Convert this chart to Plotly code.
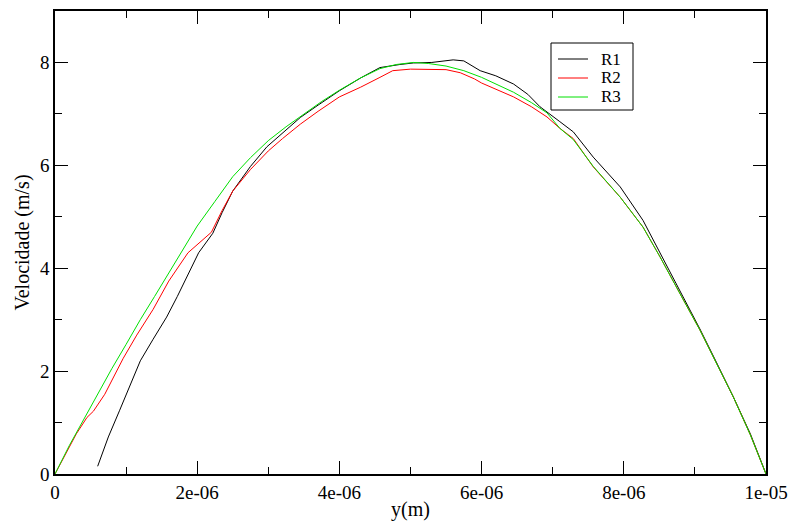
import plotly.graph_objects as go

# x positions in micrometres (converted to metres below), velocities in m/s
r1_x_um = [0.60, 0.75, 0.91, 1.05, 1.20, 1.38, 1.57, 1.72, 1.85, 2.02, 2.22, 2.35, 2.50, 2.75, 2.98, 3.20, 3.45, 3.70, 4.00, 4.30, 4.57, 4.85, 5.04, 5.30, 5.60, 5.75, 5.98, 6.20, 6.45, 6.65, 6.82, 7.10, 7.29, 7.57, 7.95, 8.27, 8.51, 8.84, 9.07, 9.30, 9.54, 9.78, 10.0]
r1_v = [0.15, 0.72, 1.24, 1.70, 2.20, 2.62, 3.05, 3.45, 3.83, 4.30, 4.68, 5.08, 5.50, 5.98, 6.36, 6.62, 6.93, 7.17, 7.45, 7.70, 7.90, 7.96, 7.99, 8.00, 8.05, 8.03, 7.84, 7.74, 7.58, 7.38, 7.14, 6.85, 6.65, 6.16, 5.58, 4.93, 4.29, 3.44, 2.82, 2.18, 1.50, 0.78, 0.0]

r2_x_um = [0.0, 0.15, 0.30, 0.45, 0.54, 0.70, 0.96, 1.15, 1.38, 1.60, 1.87, 2.20, 2.35, 2.50, 2.75, 3.00, 3.20, 3.45, 3.70, 4.00, 4.30, 4.57, 4.75, 5.00, 5.30, 5.50, 5.70, 5.90, 6.00, 6.20, 6.45, 6.70, 6.92, 7.10, 7.29, 7.57, 7.95, 8.27, 8.51, 8.84, 9.07, 9.30, 9.54, 9.78, 10.0]
r2_v = [0.0, 0.40, 0.78, 1.10, 1.22, 1.55, 2.25, 2.70, 3.20, 3.75, 4.30, 4.70, 5.12, 5.50, 5.92, 6.28, 6.52, 6.80, 7.05, 7.33, 7.52, 7.71, 7.84, 7.87, 7.87, 7.86, 7.80, 7.68, 7.60, 7.48, 7.33, 7.14, 6.94, 6.72, 6.52, 5.97, 5.38, 4.80, 4.22, 3.38, 2.80, 2.16, 1.50, 0.76, 0.0]

r3_x_um = [0.0, 0.20, 0.40, 0.60, 0.80, 1.00, 1.20, 1.40, 1.60, 1.80, 2.00, 2.25, 2.50, 2.75, 3.00, 3.25, 3.50, 3.75, 4.00, 4.30, 4.57, 4.80, 5.04, 5.25, 5.50, 5.75, 6.00, 6.20, 6.45, 6.70, 6.92, 7.10, 7.29, 7.57, 7.95, 8.27, 8.51, 8.84, 9.07, 9.30, 9.54, 9.78, 10.0]
r3_v = [0.0, 0.55, 1.05, 1.56, 2.05, 2.52, 3.00, 3.45, 3.90, 4.35, 4.82, 5.30, 5.78, 6.15, 6.48, 6.75, 7.00, 7.24, 7.46, 7.70, 7.88, 7.96, 8.00, 7.98, 7.93, 7.84, 7.71, 7.58, 7.42, 7.22, 7.02, 6.72, 6.50, 5.98, 5.38, 4.80, 4.22, 3.38, 2.80, 2.16, 1.50, 0.76, 0.0]

x_tick_vals = [0, 2e-6, 4e-6, 6e-6, 8e-6, 1e-5]
x_tick_text = ["0", "2e-06", "4e-06", "6e-06", "8e-06", "1e-05"]
y_tick_vals = [0, 2, 4, 6, 8]

series_names = ["R1", "R2", "R3"]
series_colors = ["black", "#ff0000", "#00e000"]
series_x = [r1_x_um, r2_x_um, r3_x_um]
series_v = [r1_v, r2_v, r3_v]

W, H = 791, 522
ML, MR, MT, MB = 55, 25, 11, 48
PW, PH = W - ML - MR, H - MT - MB

def px_to_paper(px, py):
    return (px - ML) / PW, (H - MB - py) / PH

fig = go.Figure()
for name, xs, vs, col in zip(series_names, series_x, series_v, series_colors):
    fig.add_trace(go.Scatter(x=[v * 1e-6 for v in xs], y=vs, mode="lines", name=name,
                             line=dict(color=col, width=1)))

serif = "'Liberation Serif', 'Times New Roman', Times, serif"
axis_common = dict(showline=True, linecolor="black", linewidth=1.5, mirror="allticks",
                   ticks="inside", tickcolor="black", tickwidth=1, ticklen=13,
                   showgrid=False, zeroline=False, automargin=False,
                   tickfont=dict(family=serif, size=19, color="black"))

fig.update_xaxes(range=[0, 1e-5], tickvals=x_tick_vals, ticktext=x_tick_text,
                 minor=dict(dtick=1e-6, ticks="inside", ticklen=7, tickcolor="black", showgrid=False),
                 title_text="y(m)", title_font=dict(family=serif, size=20, color="black"),
                 title_standoff=0,
                 **axis_common)
fig.update_yaxes(range=[0, 9], tickvals=y_tick_vals,
                 minor=dict(dtick=1, ticks="inside", ticklen=7, tickcolor="black", showgrid=False),
                 title_text="Velocidade (m/s)", title_font=dict(family=serif, size=20, color="black"),
                 title_standoff=5,
                 **axis_common)

# hand-built legend box (xmgrace style, tight line spacing)
bx0, by0 = px_to_paper(551, 43)
bx1, by1 = px_to_paper(633, 110)
fig.add_shape(type="rect", xref="paper", yref="paper", x0=bx0, x1=bx1, y0=by1, y1=by0,
              line=dict(color="black", width=1), fillcolor="white", layer="above")
entry_py = [59, 78, 97]
for name, col, py in zip(series_names, series_colors, entry_py):
    lx0, ly = px_to_paper(558, py)
    lx1, _ = px_to_paper(588, py)
    tx, _ = px_to_paper(600, py)
    fig.add_shape(type="line", xref="paper", yref="paper", x0=lx0, x1=lx1, y0=ly, y1=ly,
                  line=dict(color=col, width=1), layer="above")
    fig.add_annotation(xref="paper", yref="paper", x=tx, y=ly, text=name, showarrow=False,
                       xanchor="left", yanchor="middle", borderpad=0,
                       font=dict(family=serif, size=17, color="black"))

fig.update_layout(
    width=W, height=H,
    font=dict(family=serif, color="black"),
    margin=dict(l=ML, r=MR, t=MT, b=MB),
    paper_bgcolor="white", plot_bgcolor="white",
    showlegend=False,
)

fig.write_html("out.html", config={"displayModeBar": False},
               post_script="document.body.style.margin='0';")
